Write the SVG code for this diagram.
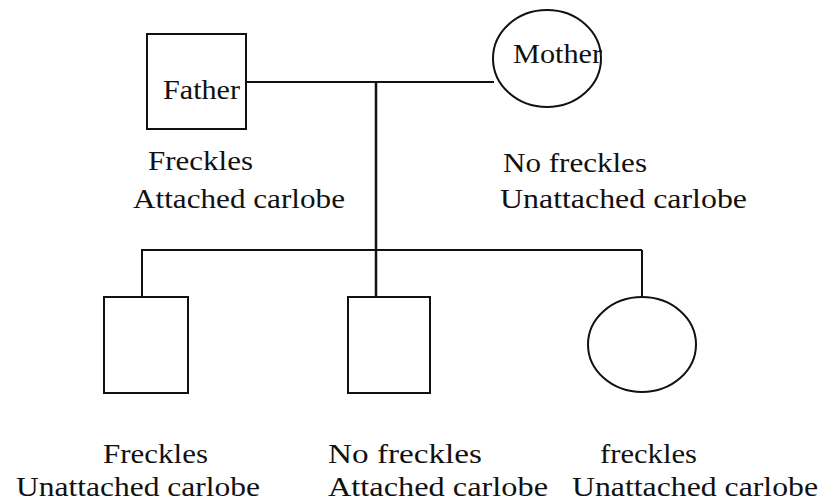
<svg xmlns="http://www.w3.org/2000/svg" width="830" height="503" viewBox="0 0 830 503">
<style>
.s{fill:none;stroke:#111;stroke-width:2}
.t{font-family:"Liberation Serif","Times New Roman",serif;font-size:27px;fill:#111}
</style>
<rect width="830" height="503" fill="#fff"/>
<g id="connectors" class="s">
<line x1="246" y1="82" x2="494" y2="82"/>
<line x1="376" y1="82" x2="376" y2="297" stroke-width="2.5"/>
<line x1="141" y1="250" x2="642" y2="250"/>
<line x1="142" y1="250" x2="142" y2="297"/>
<line x1="642" y1="250" x2="642" y2="297"/>
</g>
<g id="father">
<rect class="s" x="147" y="34" width="99" height="95"/>
<text class="t" x="163" y="99" textLength="77" lengthAdjust="spacingAndGlyphs">Father</text>
<text class="t" x="148" y="170" textLength="105" lengthAdjust="spacingAndGlyphs">Freckles</text>
<text class="t" x="133" y="208" textLength="212" lengthAdjust="spacingAndGlyphs">Attached carlobe</text>
</g>
<g id="mother">
<ellipse class="s" cx="547" cy="58.5" rx="54" ry="48.5"/>
<text class="t" x="513" y="63" textLength="89" lengthAdjust="spacingAndGlyphs">Mother</text>
<text class="t" x="503" y="172" textLength="144" lengthAdjust="spacingAndGlyphs">No freckles</text>
<text class="t" x="500" y="208" textLength="247" lengthAdjust="spacingAndGlyphs">Unattached carlobe</text>
</g>
<g id="child1">
<rect class="s" x="104" y="297" width="84" height="96"/>
<text class="t" x="103" y="463" textLength="105" lengthAdjust="spacingAndGlyphs">Freckles</text>
<text class="t" x="16" y="496" textLength="244" lengthAdjust="spacingAndGlyphs">Unattached carlobe</text>
</g>
<g id="child2">
<rect class="s" x="348" y="297" width="82" height="96"/>
<text class="t" x="328" y="463" textLength="154" lengthAdjust="spacingAndGlyphs">No freckles</text>
<text class="t" x="328" y="496" textLength="220" lengthAdjust="spacingAndGlyphs">Attached carlobe</text>
</g>
<g id="child3">
<ellipse class="s" cx="642" cy="344.5" rx="54" ry="47.5"/>
<text class="t" x="600" y="463" textLength="97" lengthAdjust="spacingAndGlyphs">freckles</text>
<text class="t" x="572" y="496" textLength="246" lengthAdjust="spacingAndGlyphs">Unattached carlobe</text>
</g>
</svg>
